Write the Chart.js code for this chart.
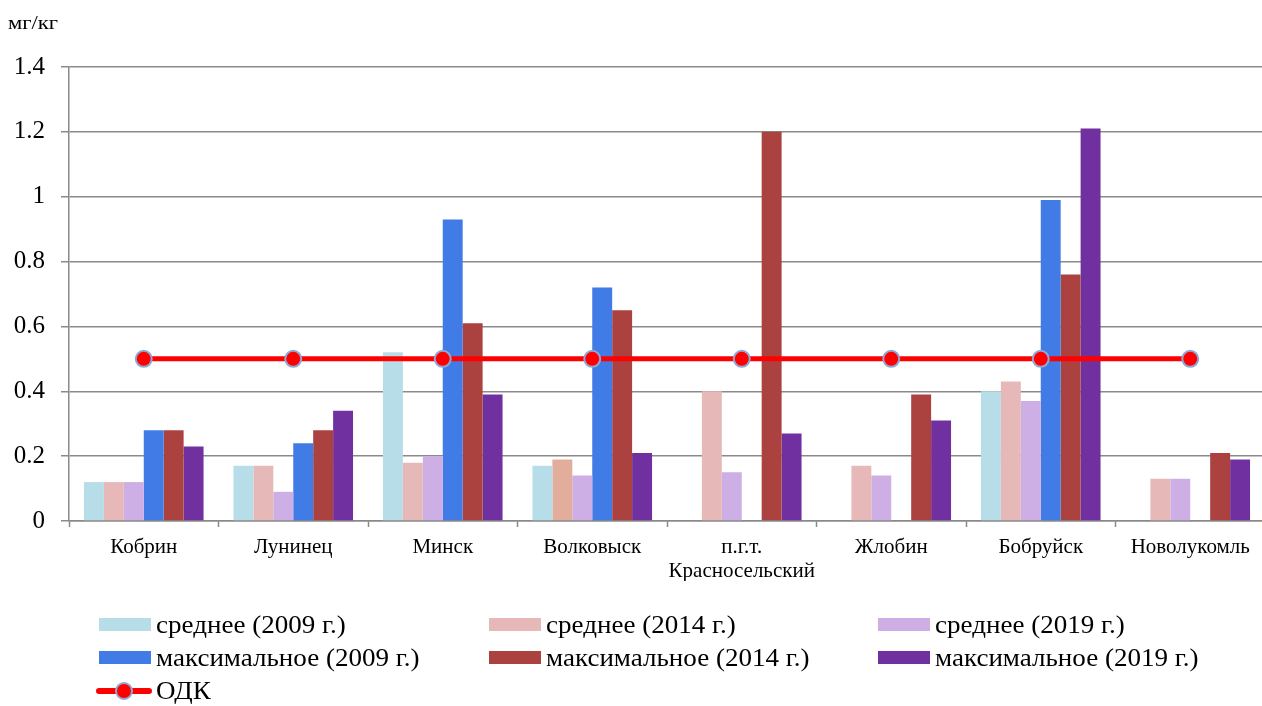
<!DOCTYPE html>
<html>
<head>
<meta charset="utf-8">
<script src="https://cdn.jsdelivr.net/npm/chart.js@4"></script>
<style>
  html, body { margin: 0; padding: 0; background: #fff; overflow: hidden; width: 1262px; height: 706px; }
  #wrap { position: absolute; left: 0; top: 0; width: 1275px; height: 706px; }
  #unit { position: absolute; left: 8px; top: 12px; font: 19px "Liberation Serif", serif; color: #000;
          transform: scaleX(1.19); transform-origin: left center; }
  .lg { position: absolute; font: 26px "Liberation Serif", serif; color: #000; white-space: nowrap; line-height: 30px;
        transform: scaleX(1.04); transform-origin: left center; }
  .sw { position: absolute; width: 52px; height: 13px; }
  .ln { position: absolute; width: 56px; height: 6px; background: #ff0000; border-radius: 3px; }
  .dot { position: absolute; width: 18px; height: 18px; border-radius: 50%; background: #ff0000; border: 2px solid #8ea8d6; box-sizing: border-box; }
</style>
</head>
<body>
<div id="wrap"><canvas id="c" width="1275" height="706"></canvas></div>
<div id="unit">мг/кг</div>
<div id="legend"></div>
<script>
// Sampling sites
const categories = ['Кобрин', 'Лунинец', 'Минск', 'Волковыск', ['п.г.т.', 'Красносельский'], 'Жлобин', 'Бобруйск', 'Новолукомль'];

// Concentrations, mg/kg
const avg2009 = [0.12, 0.17, 0.52, 0.17, null, null, 0.40, null];
const avg2014 = [0.12, 0.17, 0.18, 0.19, 0.40, 0.17, 0.43, 0.13];
const avg2019 = [0.12, 0.09, 0.20, 0.14, 0.15, 0.14, 0.37, 0.13];
const max2009 = [0.28, 0.24, 0.93, 0.72, null, null, 0.99, null];
const max2014 = [0.28, 0.28, 0.61, 0.65, 1.20, 0.39, 0.76, 0.21];
const max2019 = [0.23, 0.34, 0.39, 0.21, 0.27, 0.31, 1.21, 0.19];
const odk     = [0.50, 0.50, 0.50, 0.50, 0.50, 0.50, 0.50, 0.50];

const seriesNames = ['среднее (2009 г.)', 'среднее (2014 г.)', 'среднее (2019 г.)',
                     'максимальное (2009 г.)', 'максимальное (2014 г.)', 'максимальное (2019 г.)', 'ОДК'];

const yTicks = [0, 0.2, 0.4, 0.6, 0.8, 1, 1.2, 1.4];

const colors = ['#b7dee8', '#e6b9b8', '#cdaee5', '#417be5', '#ab4240', '#7030a0'];
// the Волковыск 2014 average bar has a warmer tint
const avg2014Colors = avg2014.map((v, i) => i === 3 ? '#e2ad9b' : colors[1]);

const barSeries = [avg2009, avg2014, avg2019, max2009, max2014, max2019];

const datasets = barSeries.map((data, i) => ({
  type: 'bar',
  label: seriesNames[i],
  data: data,
  backgroundColor: i === 1 ? avg2014Colors : colors[i],
  borderWidth: 0,
  categoryPercentage: 0.8,
  barPercentage: 1.0,
  order: 1
}));

datasets.push({
  type: 'line',
  label: seriesNames[6],
  data: odk,
  borderColor: '#ff0000',
  borderWidth: 5,
  backgroundColor: '#ff0000',
  pointRadius: 8,
  pointBorderWidth: 2,
  pointBorderColor: '#8ea8d6',
  pointBackgroundColor: '#ff0000',
  tension: 0,
  order: 0
});

const gridColor = '#8a8a8a';

new Chart(document.getElementById('c'), {
  data: { labels: categories, datasets: datasets },
  options: {
    responsive: false,
    animation: false,
    layout: { padding: { left: 0, right: 3, top: 67, bottom: 125 } },
    plugins: { legend: { display: false }, tooltip: { enabled: false } },
    scales: {
      x: {
        type: 'category',
        offset: true,
        grid: { display: true, drawOnChartArea: false, drawTicks: true, tickLength: 6, tickColor: gridColor, tickWidth: 1.5, offset: true },
        border: { display: true, color: gridColor, width: 1.5 },
        ticks: { color: '#000', font: { family: 'Liberation Serif', size: 21, lineHeight: 1.15 }, padding: 8, maxRotation: 0, autoSkip: false },
        afterFit: (s) => { s.height = 60; }
      },
      y: {
        min: 0, max: 1.4,
        afterBuildTicks: (s) => { s.ticks = yTicks.map(v => ({ value: v })); },
        grid: { color: gridColor, lineWidth: 1.5, drawTicks: true, tickLength: 8, tickColor: gridColor },
        border: { display: true, color: gridColor, width: 1.5 },
        ticks: { color: '#000', font: { family: 'Liberation Serif', size: 25 }, padding: 16,
                 callback: (v) => String(v) },
        afterFit: (s) => { s.width = 69; }
      }
    }
  }
});

// Legend in three columns below the plot
const legendCols = [99, 489, 878];
const legendRows = [625, 658, 691];
const legend = document.getElementById('legend');
seriesNames.forEach((name, i) => {
  const col = legendCols[i % 3];
  const row = legendRows[Math.floor(i / 3)];
  if (i < 6) {
    const sw = document.createElement('div');
    sw.className = 'sw';
    sw.style.left = col + 'px';
    sw.style.top = (row - 7) + 'px';
    sw.style.background = colors[i];
    legend.appendChild(sw);
  } else {
    const ln = document.createElement('div');
    ln.className = 'ln';
    ln.style.left = (col - 3) + 'px';
    ln.style.top = (row - 3) + 'px';
    legend.appendChild(ln);
    const dot = document.createElement('div');
    dot.className = 'dot';
    dot.style.left = (col + 16) + 'px';
    dot.style.top = (row - 9) + 'px';
    legend.appendChild(dot);
  }
  const t = document.createElement('div');
  t.className = 'lg';
  t.textContent = name;
  t.style.left = (col + 57) + 'px';
  t.style.top = (row - 15) + 'px';
  legend.appendChild(t);
});
</script>
</body>
</html>
